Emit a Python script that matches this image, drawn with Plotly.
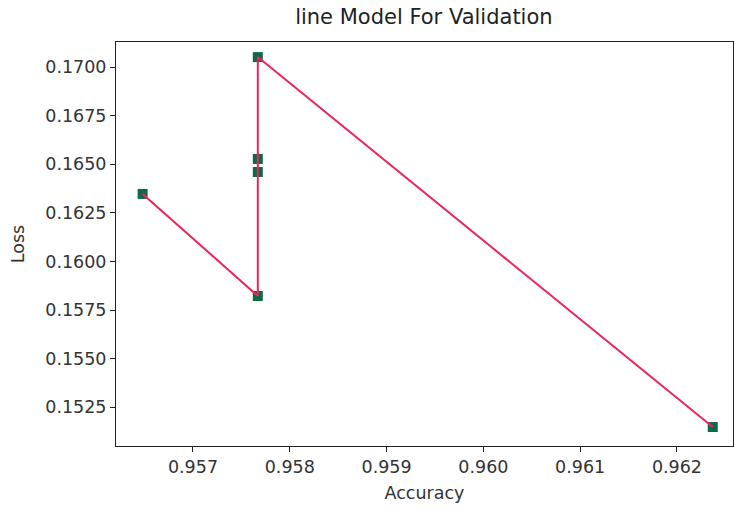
import plotly.graph_objects as go

accuracy = [0.95648, 0.95767, 0.95767, 0.95767, 0.95767, 0.96237]
loss = [0.16347, 0.15822, 0.16460, 0.16527, 0.17051, 0.15148]

x_ticks = [0.957, 0.958, 0.959, 0.960, 0.961, 0.962]
y_ticks = [0.1525, 0.1550, 0.1575, 0.1600, 0.1625, 0.1650, 0.1675, 0.1700]

fig = go.Figure()
fig.add_trace(go.Scatter(x=accuracy, y=loss, mode="markers",
                         marker=dict(symbol="square", size=10, color="#0b6b48"),
                         showlegend=False))
fig.add_trace(go.Scatter(x=accuracy, y=loss, mode="lines",
                         line=dict(color="#f0235c", width=2),
                         showlegend=False))

axis_common = dict(showline=True, linecolor="#222", linewidth=1, mirror=True,
                   ticks="outside", ticklen=5, tickcolor="#222", showgrid=False,
                   zeroline=False, automargin=False,
                   tickfont=dict(size=17.5, color="#333"))

fig.update_layout(
    template="none",
    width=734, height=507,
    margin=dict(l=116, r=1, t=42, b=61),
    paper_bgcolor="white", plot_bgcolor="white",
    font=dict(family="DejaVu Sans", color="#333"),
    title=dict(text="line Model For Validation", x=0.5775, xanchor="center",
               y=0.968, yanchor="middle", font=dict(size=21, color="#222")),
    xaxis=dict(range=[0.956205, 0.962579], tickvals=x_ticks,
               ticktext=[f"{v:.3f}" for v in x_ticks],
               title=dict(text="Accuracy", font=dict(size=17.5), standoff=10), **axis_common),
    yaxis=dict(range=[0.150504, 0.171286], tickvals=y_ticks,
               ticktext=[f"{v:.4f}" for v in y_ticks],
               title=dict(text="Loss", font=dict(size=17.5), standoff=16), **axis_common),
)
fig.write_html("out.html", config={"displayModeBar": False},
               post_script="document.body.style.margin='0';")
